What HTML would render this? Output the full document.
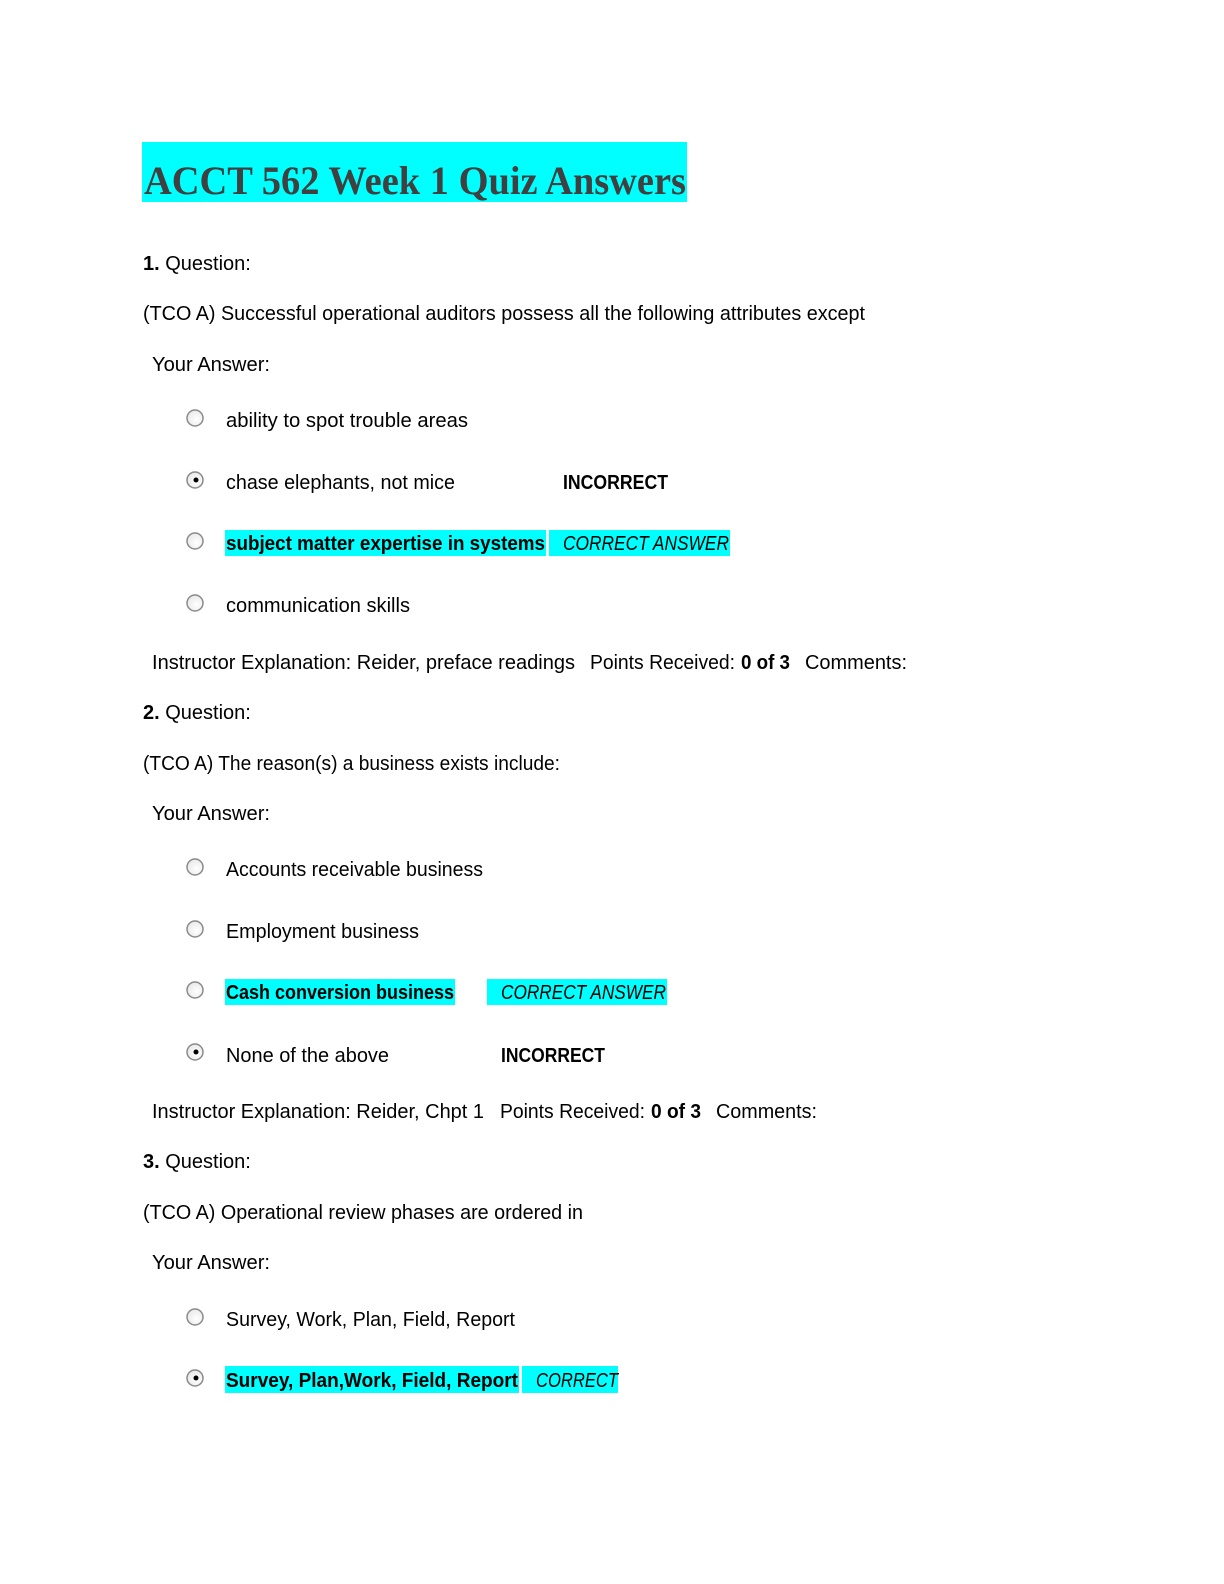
<!DOCTYPE html>
<html><head><meta charset="utf-8"><style>
html,body{margin:0;padding:0;background:#fff;width:1224px;height:1584px;overflow:hidden;}
svg{display:block;position:absolute;left:0;top:0;}
text{font-family:"Liberation Sans",sans-serif;font-size:20px;fill:#000;}
.b{font-weight:bold;}
.i{font-style:italic;}
.t{font-family:"Liberation Serif",serif;font-weight:bold;font-size:40px;fill:#404040;}
.hl{fill:#00ffff;}
</style></head><body>
<svg width="1224" height="1584" viewBox="0 0 1224 1584" xmlns="http://www.w3.org/2000/svg">
<defs>
<radialGradient id="rg" cx="0.6" cy="0.6" r="0.7">
<stop offset="0" stop-color="#ffffff"/><stop offset="1" stop-color="#e6e6e6"/>
</radialGradient>
</defs>
<rect class="hl" x="142" y="142" width="545" height="60"/>
<text class="t" x="144" y="194" textLength="542" lengthAdjust="spacingAndGlyphs">ACCT 562 Week 1 Quiz Answers</text>

<text x="143" y="270"><tspan class="b">1.</tspan> Question:</text>
<text x="143" y="320" textLength="722" lengthAdjust="spacingAndGlyphs">(TCO A) Successful operational auditors possess all the following attributes except</text>
<text x="152" y="371" textLength="118" lengthAdjust="spacingAndGlyphs">Your Answer:</text>

<g stroke="#8a8a8a" stroke-width="1.5" fill="url(#rg)">
<circle cx="195" cy="418" r="8"/>
<circle cx="195" cy="480" r="8"/>
<circle cx="195" cy="541" r="8"/>
<circle cx="195" cy="603" r="8"/>
<circle cx="195" cy="867" r="8"/>
<circle cx="195" cy="929" r="8"/>
<circle cx="195" cy="990" r="8"/>
<circle cx="195" cy="1052" r="8"/>
<circle cx="195" cy="1317" r="8"/>
<circle cx="195" cy="1378" r="8"/>
</g>
<g fill="#000">
<circle cx="196" cy="480" r="2.5"/>
<circle cx="196" cy="1052" r="2.5"/>
<circle cx="196" cy="1378" r="2.5"/>
</g>

<text x="226" y="427" textLength="242" lengthAdjust="spacingAndGlyphs">ability to spot trouble areas</text>
<text x="226" y="489" textLength="229" lengthAdjust="spacingAndGlyphs">chase elephants, not mice</text>
<text class="b" x="563" y="489" textLength="105" lengthAdjust="spacingAndGlyphs">INCORRECT</text>
<rect class="hl" x="225" y="530" width="321" height="26"/>
<rect class="hl" x="549" y="530" width="181" height="26"/>
<text class="b" x="226" y="550" textLength="319" lengthAdjust="spacingAndGlyphs">subject matter expertise in systems</text>
<text class="i" x="563" y="550" textLength="166" lengthAdjust="spacingAndGlyphs">CORRECT ANSWER</text>
<text x="226" y="612" textLength="184" lengthAdjust="spacingAndGlyphs">communication skills</text>

<text x="152" y="669" textLength="423" lengthAdjust="spacingAndGlyphs">Instructor Explanation: Reider, preface readings</text>
<text x="590" y="669" textLength="145" lengthAdjust="spacingAndGlyphs">Points Received:</text>
<text class="b" x="741" y="669" textLength="49" lengthAdjust="spacingAndGlyphs">0 of 3</text>
<text x="805" y="669" textLength="102" lengthAdjust="spacingAndGlyphs">Comments:</text>

<text x="143" y="719"><tspan class="b">2.</tspan> Question:</text>
<text x="143" y="770" textLength="417" lengthAdjust="spacingAndGlyphs">(TCO A) The reason(s) a business exists include:</text>
<text x="152" y="820" textLength="118" lengthAdjust="spacingAndGlyphs">Your Answer:</text>

<text x="226" y="876" textLength="257" lengthAdjust="spacingAndGlyphs">Accounts receivable business</text>
<text x="226" y="938" textLength="193" lengthAdjust="spacingAndGlyphs">Employment business</text>
<rect class="hl" x="225" y="979" width="230" height="26"/>
<rect class="hl" x="487" y="979" width="180" height="26"/>
<text class="b" x="226" y="999" textLength="228" lengthAdjust="spacingAndGlyphs">Cash conversion business</text>
<text class="i" x="501" y="999" textLength="165" lengthAdjust="spacingAndGlyphs">CORRECT ANSWER</text>
<text x="226" y="1062" textLength="163" lengthAdjust="spacingAndGlyphs">None of the above</text>
<text class="b" x="501" y="1062" textLength="104" lengthAdjust="spacingAndGlyphs">INCORRECT</text>

<text x="152" y="1118" textLength="332" lengthAdjust="spacingAndGlyphs">Instructor Explanation: Reider, Chpt 1</text>
<text x="500" y="1118" textLength="145" lengthAdjust="spacingAndGlyphs">Points Received:</text>
<text class="b" x="651" y="1118" textLength="50" lengthAdjust="spacingAndGlyphs">0 of 3</text>
<text x="716" y="1118" textLength="101" lengthAdjust="spacingAndGlyphs">Comments:</text>

<text x="143" y="1168"><tspan class="b">3.</tspan> Question:</text>
<text x="143" y="1219" textLength="440" lengthAdjust="spacingAndGlyphs">(TCO A) Operational review phases are ordered in</text>
<text x="152" y="1269" textLength="118" lengthAdjust="spacingAndGlyphs">Your Answer:</text>

<text x="226" y="1326" textLength="289" lengthAdjust="spacingAndGlyphs">Survey, Work, Plan, Field, Report</text>
<rect class="hl" x="225" y="1366" width="294" height="27"/>
<rect class="hl" x="522" y="1366" width="96" height="27"/>
<text class="b" x="226" y="1387" textLength="292" lengthAdjust="spacingAndGlyphs">Survey, Plan,Work, Field, Report</text>
<text class="i" x="536" y="1387" textLength="82" lengthAdjust="spacingAndGlyphs">CORRECT</text>
</svg>
</body></html>
